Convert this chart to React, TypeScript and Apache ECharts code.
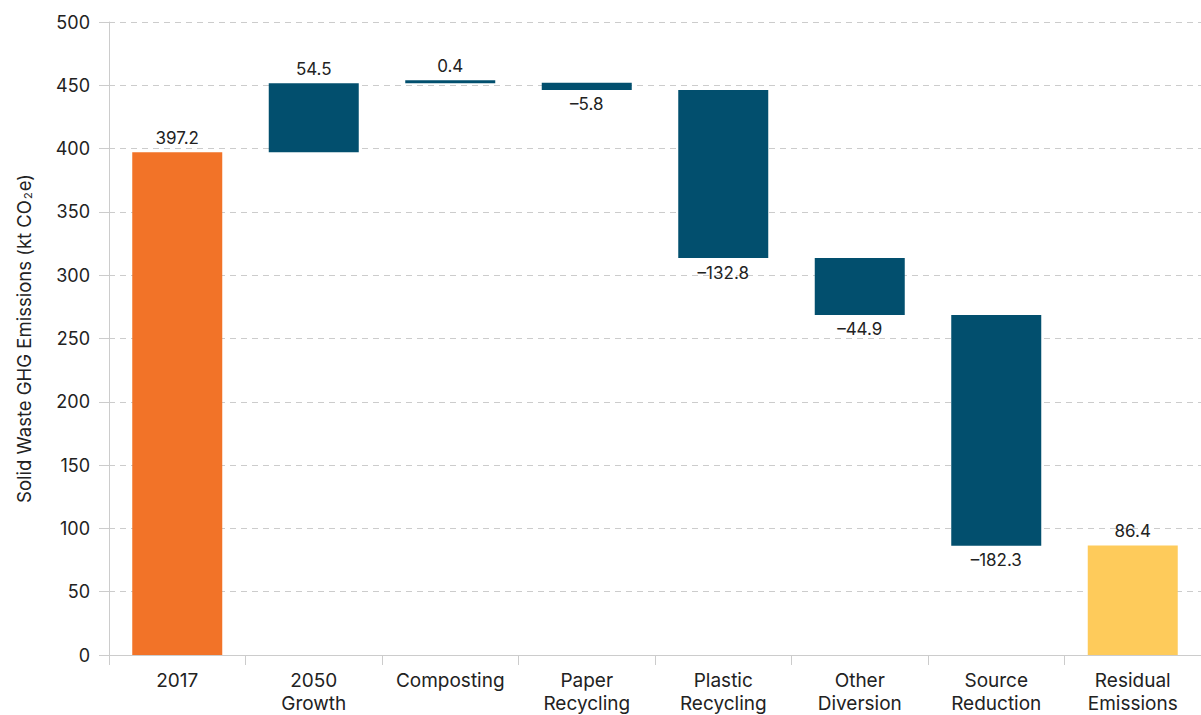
import React, { useEffect, useRef } from "react";
import * as echarts from "echarts";

const categories = ["2017", "2050\nGrowth", "Composting", "Paper\nRecycling", "Plastic\nRecycling", "Other\nDiversion", "Source\nReduction", "Residual\nEmissions"];
const changes = [397.2, 54.5, 0.4, -5.8, -132.8, -44.9, -182.3, 86.4];
const kinds = ["total", "delta", "delta", "delta", "delta", "delta", "delta", "total"];
const yTicks = { min: 0, max: 500, interval: 50 };

const ORANGE = "#F27328";
const BLUE = "#024F6E";
const YELLOW = "#FECB5B";
const TEXT = "#222222";
const FONT = "Inter, 'Noto Sans', sans-serif";

export default function App() {
  const ref = useRef<HTMLDivElement>(null);
  useEffect(() => {
    if (!ref.current) return;
    const chart = echarts.init(ref.current, null, { renderer: "svg" });
    const base: number[] = [];
    const vis: any[] = [];
    let running = 0;
    changes.forEach((v, i) => {
      if (kinds[i] === "total") {
        base.push(0);
        running = v;
        vis.push({
          value: v,
          itemStyle: { color: i === 0 ? ORANGE : YELLOW },
          label: { position: "top", formatter: v.toFixed(1) },
        });
      } else {
        const start = running;
        const end = running + v;
        running = end;
        base.push(Math.min(start, end));
        vis.push({
          value: Math.abs(v),
          itemStyle: { color: BLUE },
          label: {
            position: v >= 0 ? "top" : "bottom",
            formatter: v >= 0 ? v.toFixed(1) : "\u2013" + Math.abs(v).toFixed(1),
          },
        });
      }
    });
    chart.setOption({
      animation: false,
      textStyle: { fontFamily: FONT },
      grid: { left: 109, right: -9, top: 22, bottom: 58, containLabel: false },
      xAxis: {
        type: "category",
        data: categories,
        axisLine: { lineStyle: { color: "#cccccc" } },
        axisTick: { show: true, length: 10, alignWithLabel: false, lineStyle: { color: "#cccccc" } },
        axisLabel: { color: TEXT, fontSize: 19, fontFamily: FONT, margin: 14, lineHeight: 23, interval: 0 },
      },
      yAxis: {
        type: "value",
        min: yTicks.min,
        max: yTicks.max,
        interval: yTicks.interval,
        name: "Solid Waste GHG Emissions (kt CO{sub|2}e)",
        nameLocation: "middle",
        nameGap: 76,
        nameTextStyle: {
          color: TEXT,
          fontSize: 18.5,
          fontFamily: FONT,
          rich: { sub: { fontSize: 11, color: TEXT, fontFamily: FONT, verticalAlign: "bottom", padding: [8, 1, 0, 1] } },
        },
        axisLine: { show: true, lineStyle: { color: "#cccccc" } },
        axisTick: { show: true, length: 10, lineStyle: { color: "#cccccc" } },
        axisLabel: { color: TEXT, fontSize: 18, fontFamily: FONT, margin: 19 },
        splitLine: { lineStyle: { color: "#cccccc", type: [6, 5] } },
      },
      series: [
        {
          type: "bar",
          stack: "w",
          data: base,
          itemStyle: { color: "transparent" },
          barWidth: 90,
          silent: true,
        },
        {
          type: "bar",
          stack: "w",
          data: vis,
          barWidth: 90,
          barMinHeight: 3,
          label: { show: true, color: TEXT, fontSize: 17, fontFamily: FONT, distance: 6 },
        },
      ],
    });
    return () => chart.dispose();
  }, []);
  return <div ref={ref} style={{ width: 1201, height: 715, position: "absolute", left: 0, top: 0 }} />;
}
